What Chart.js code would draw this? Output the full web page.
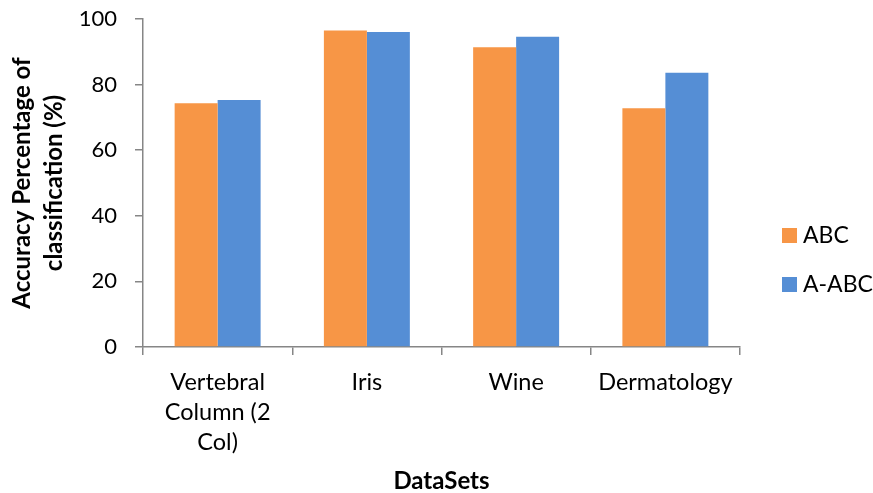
<!DOCTYPE html>
<html><head><meta charset="utf-8">
<script src="https://cdn.jsdelivr.net/npm/chart.js@4.4.0/dist/chart.umd.min.js"></script>
<style>html,body{margin:0;padding:0;background:#fff}#wrap{width:873px;height:493px;position:relative}</style>
</head><body><div id="wrap"><canvas id="c" width="873" height="493"></canvas></div>
<script>
// ---- data ----
const categories = [['Vertebral', 'Column (2', 'Col)'], 'Iris', 'Wine', 'Dermatology'];
const seriesNames = ['ABC', 'A-ABC'];
const abcValues = [74.3, 96.5, 91.4, 72.8];
const aabcValues = [75.3, 96.0, 94.6, 83.6];
const yTickMin = 0, yTickMax = 100, yTickStep = 20;
const yTitle = ['Accuracy Percentage of', 'classification (%)'];
const xTitle = 'DataSets';

// ---- styles ----
const colors = ['#F79646', '#558ED5'];
const axisColor = '#868686';
const fontFamily = 'Lato, "Open Sans", sans-serif';

const sideLegend = {
  id: 'sideLegend',
  afterDraw(chart) {
    const { ctx, chartArea } = chart;
    const x0 = chartArea.right + 42;
    const yTop = chartArea.top + 209;
    const step = 49;
    const box = 15;
    ctx.save();
    ctx.font = '23px ' + fontFamily;
    ctx.textBaseline = 'middle';
    ctx.textAlign = 'left';
    chart.data.datasets.forEach((ds, i) => {
      const y = yTop + i * step;
      ctx.fillStyle = ds.backgroundColor;
      ctx.fillRect(x0, y, box, box);
      ctx.fillStyle = '#000';
      ctx.fillText(ds.label, x0 + 21, y + box / 2);
    });
    ctx.restore();
  }
};

new Chart(document.getElementById('c'), {
  type: 'bar',
  data: {
    labels: categories,
    datasets: [
      { label: seriesNames[0], data: abcValues, backgroundColor: colors[0], borderWidth: 0 },
      { label: seriesNames[1], data: aabcValues, backgroundColor: colors[1], borderWidth: 0 }
    ]
  },
  options: {
    responsive: false,
    animation: false,
    layout: { padding: { top: 19, right: 133, left: 0, bottom: 0 } },
    categoryPercentage: 0.576,
    barPercentage: 1.0,
    plugins: { legend: { display: false }, tooltip: { enabled: false } },
    scales: {
      x: {
        afterFit(scale) { scale.height = 146; },
        grid: { display: true, drawOnChartArea: false, drawTicks: true, tickLength: 8, color: axisColor, lineWidth: 1.5, offset: true },
        border: { display: true, color: axisColor, width: 1.5 },
        ticks: { autoSkip: false, maxRotation: 0, minRotation: 0, padding: 12, color: '#000',
          font: { family: fontFamily, size: 23.5, lineHeight: '30px' } },
        title: { display: true, text: xTitle, color: '#000', padding: { top: 0, bottom: 0 },
          font: { family: fontFamily, size: 24, weight: 'bold', lineHeight: 1 } }
      },
      y: {
        min: yTickMin, max: yTickMax,
        afterFit(scale) { scale.width = 143; scale.paddingTop = 0; scale.paddingBottom = 0; },
        grid: { display: true, drawOnChartArea: false, drawTicks: true, tickLength: 8, color: axisColor, lineWidth: 1.5 },
        border: { display: true, color: axisColor, width: 1.5 },
        ticks: { stepSize: yTickStep, padding: 18, color: '#000', font: { family: fontFamily, size: 22 } },
        title: { display: true, text: yTitle, color: '#000', padding: { top: 7, bottom: 0 },
          font: { family: fontFamily, size: 24, weight: 'bold', lineHeight: 1.3 } }
      }
    }
  },
  plugins: [sideLegend]
});
</script>
</body></html>
